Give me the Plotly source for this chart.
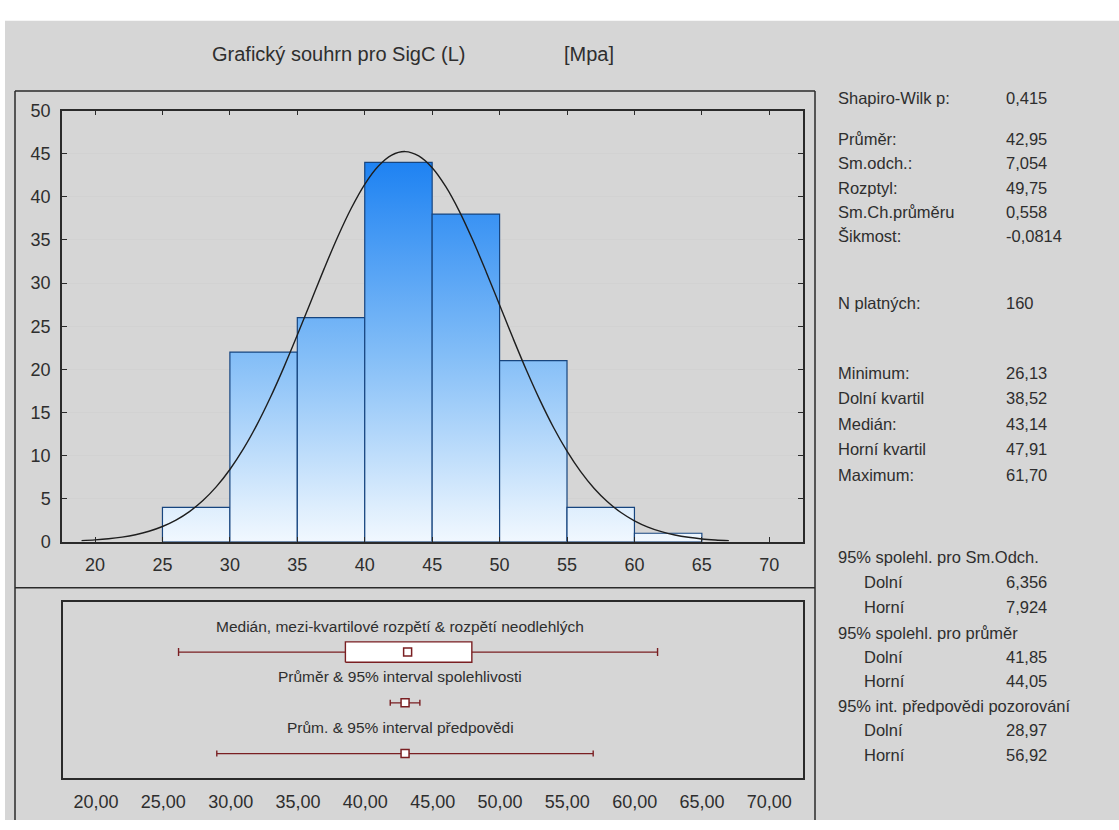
import plotly.graph_objects as go

# ---------------- data ----------------
bin_left = [25, 30, 35, 40, 45, 50, 55, 60]
bin_width = 5
bin_counts = [4, 22, 26, 44, 38, 21, 4, 1]

curve_x = [19, 20, 21, 22, 23, 24, 25, 26, 27, 28, 29, 30, 31, 32, 33, 34, 35, 36,
           37, 38, 39, 40, 41, 42, 43, 44, 45, 46, 47, 48, 49, 50, 51, 52, 53, 54,
           55, 56, 57, 58, 59, 60, 61, 62, 63, 64, 65, 66, 67]
curve_y = [0.14, 0.23, 0.36, 0.55, 0.83, 1.23, 1.78, 2.52, 3.51, 4.79, 6.40, 8.39,
           10.77, 13.56, 16.73, 20.23, 23.97, 27.84, 31.70, 35.37, 38.67, 41.45,
           43.54, 44.83, 45.24, 44.74, 43.37, 41.20, 38.37, 35.01, 31.32, 27.46,
           23.59, 19.86, 16.40, 13.26, 10.52, 8.17, 6.22, 4.65, 3.40, 2.44, 1.71,
           1.18, 0.80, 0.53, 0.34, 0.22, 0.14]

hist_xticks = [20, 25, 30, 35, 40, 45, 50, 55, 60, 65, 70]
hist_yticks = [0, 5, 10, 15, 20, 25, 30, 35, 40, 45, 50]
box_xticks = [20, 25, 30, 35, 40, 45, 50, 55, 60, 65, 70]
box_ticklabels = ["20,00", "25,00", "30,00", "35,00", "40,00", "45,00",
                  "50,00", "55,00", "60,00", "65,00", "70,00"]

minimum = 26.13
q1 = 38.52
median = 43.14
q3 = 47.91
maximum = 61.70
mean = 42.95
ci_low, ci_high = 41.85, 44.05
pi_low, pi_high = 28.97, 56.92

box_labels = ["Medián, mezi-kvartilové rozpětí & rozpětí neodlehlých",
              "Průměr & 95% interval spolehlivosti",
              "Prům. & 95% interval předpovědi"]

stat_labels = ["Shapiro-Wilk p:", "Průměr:", "Sm.odch.:", "Rozptyl:", "Sm.Ch.průměru",
               "Šikmost:", "N platných:", "Minimum:", "Dolní kvartil", "Medián:",
               "Horní kvartil", "Maximum:", "95% spolehl. pro Sm.Odch.", "Dolní", "Horní",
               "95% spolehl. pro průměr", "Dolní", "Horní",
               "95% int. předpovědi pozorování", "Dolní", "Horní"]
stat_values = ["0,415", "42,95", "7,054", "49,75", "0,558", "-0,0814", "160", "26,13",
               "38,52", "43,14", "47,91", "61,70", "", "6,356", "7,924", "", "41,85",
               "44,05", "", "28,97", "56,92"]

title_text = "Grafický souhrn pro SigC (L)"
unit_text = "[Mpa]"

# ---------------- layout helpers ----------------
W, H = 1119, 830
def px(x):
    return x / W
def py(y):
    return 1 - y / H

FONT = "Liberation Sans, Arial, sans-serif"
TXT = "#2e2e2e"
MAROON = "#7a1f22"
NAVY = "#17457f"
FRAME = "#2a2a2a"

fig = go.Figure()

# histogram bars (gradient filled)
for left, cnt in zip(bin_left, bin_counts):
    right = left + bin_width
    fig.add_trace(go.Scatter(
        x=[left, right, right, left, left], y=[0, 0, cnt, cnt, 0],
        mode="lines", fill="toself",
        fillgradient=dict(type="vertical",
                          colorscale=[[0, "#f7fbff"], [0.12, "#dcedfd"], [0.5, "#82bdf7"], [1, "#1a80f2"]],
                          start=0, stop=45),
        line=dict(color=NAVY, width=1.2),
        xaxis="x", yaxis="y", showlegend=False, hoverinfo="skip"))

# normal curve
fig.add_trace(go.Scatter(x=curve_x, y=curve_y, mode="lines",
                         line=dict(color="#1e1e1e", width=1.4, shape="spline"),
                         xaxis="x", yaxis="y", showlegend=False))

# ---------------- box / interval panel ----------------
r1, r2, r3 = 0.717, 0.428, 0.139
bh = 0.058

fig.add_trace(go.Scatter(x=[median], y=[r1], mode="markers", marker=dict(size=1, color="rgba(0,0,0,0)"),
                         error_x=dict(type="data", symmetric=False, array=[maximum - median],
                                      arrayminus=[median - minimum], color=MAROON, thickness=1.4, width=4),
                         xaxis="x2", yaxis="y2", showlegend=False))
fig.add_trace(go.Scatter(x=[q1, q3, q3, q1, q1], y=[r1 - bh, r1 - bh, r1 + bh, r1 + bh, r1 - bh],
                         mode="lines", fill="toself", fillcolor="white",
                         line=dict(color=MAROON, width=1.4),
                         xaxis="x2", yaxis="y2", showlegend=False))
fig.add_trace(go.Scatter(x=[median], y=[r1], mode="markers",
                         marker=dict(symbol="square", size=8, color="white", line=dict(color=MAROON, width=1.5)),
                         xaxis="x2", yaxis="y2", showlegend=False))
fig.add_trace(go.Scatter(x=[mean], y=[r2], mode="markers",
                         marker=dict(symbol="square", size=8, color="white", line=dict(color=MAROON, width=1.5)),
                         error_x=dict(type="data", symmetric=False, array=[ci_high - mean],
                                      arrayminus=[mean - ci_low], color=MAROON, thickness=1.4, width=3),
                         xaxis="x2", yaxis="y2", showlegend=False))
fig.add_trace(go.Scatter(x=[mean], y=[r3], mode="markers",
                         marker=dict(symbol="square", size=8, color="white", line=dict(color=MAROON, width=1.5)),
                         error_x=dict(type="data", symmetric=False, array=[pi_high - mean],
                                      arrayminus=[mean - pi_low], color=MAROON, thickness=1.4, width=3),
                         xaxis="x2", yaxis="y2", showlegend=False))

annotations = []
for txt, yy in zip(box_labels, [0.861, 0.578, 0.289]):
    annotations.append(dict(text=txt, x=px(400), y=yy, xref="paper", yref="y2",
                            xanchor="center", yanchor="middle", showarrow=False,
                            font=dict(family=FONT, size=15.5, color=TXT)))

# title
annotations.append(dict(text=title_text, x=px(338), y=py(45), xref="paper", yref="paper",
                        xanchor="center", yanchor="middle", showarrow=False,
                        font=dict(family=FONT, size=20, color=TXT)))
annotations.append(dict(text=unit_text, x=px(562), y=py(45), xref="paper", yref="paper",
                        xanchor="left", yanchor="middle", showarrow=False,
                        font=dict(family=FONT, size=20, color=TXT)))

# stats panel
stat_y = [90, 132, 157, 182, 207, 232, 300, 372, 398, 424, 450, 476,
          560, 586, 612, 638, 663, 688, 713, 738, 763]
for lab, val, yy in zip(stat_labels, stat_values, stat_y):
    indent = lab in ("Dolní", "Horní")
    annotations.append(dict(text=lab, x=px(862 if indent else 836), y=py(yy), xref="paper", yref="paper",
                            xanchor="left", yanchor="middle", showarrow=False,
                            font=dict(family=FONT, size=16.5, color=TXT)))
    if val:
        annotations.append(dict(text=val, x=px(1004), y=py(yy), xref="paper", yref="paper",
                                xanchor="left", yanchor="middle", showarrow=False,
                                font=dict(family=FONT, size=16.5, color=TXT)))

shapes = [
    dict(type="rect", xref="paper", yref="paper", x0=px(5), x1=1, y0=0, y1=py(11),
         fillcolor="#d6d6d6", line=dict(width=0), layer="below"),
    dict(type="line", xref="paper", yref="paper", x0=px(15), x1=px(815), y0=py(83), y1=py(83),
         line=dict(color=FRAME, width=1.5)),
    dict(type="line", xref="paper", yref="paper", x0=px(15), x1=px(15), y0=py(83), y1=0,
         line=dict(color=FRAME, width=1.5)),
    dict(type="line", xref="paper", yref="paper", x0=px(815), x1=px(815), y0=py(83), y1=0,
         line=dict(color=FRAME, width=1.5)),
    dict(type="line", xref="paper", yref="paper", x0=px(15), x1=px(815), y0=py(592), y1=py(592),
         line=dict(color=FRAME, width=1.5)),
]

axis_font = dict(family=FONT, size=18, color=TXT)
xr = [17.55, 72.5]

fig.update_layout(
    width=W, height=H, autosize=False,
    margin=dict(l=0, r=0, t=0, b=0),
    paper_bgcolor="white", plot_bgcolor="white",
    showlegend=False,
    annotations=annotations, shapes=shapes,
    xaxis=dict(domain=[px(62), px(803)], range=xr, tickvals=hist_xticks,
               ticks="inside", ticklen=5, tickcolor=FRAME, showline=True, linecolor=FRAME,
               linewidth=1.5, mirror="ticks", showgrid=False, zeroline=False,
               tickfont=axis_font, ticklabelstandoff=6, anchor="y"),
    yaxis=dict(domain=[py(545), py(103)], range=[0, 50], tickvals=hist_yticks,
               ticks="inside", ticklen=5, tickcolor=FRAME, showline=True, linecolor=FRAME,
               linewidth=1.5, mirror="ticks", showgrid=True, gridcolor="#d2d2d2", gridwidth=1,
               zeroline=False, tickfont=axis_font, ticklabelstandoff=6, anchor="x"),
    xaxis2=dict(domain=[px(63), px(803)], range=xr, tickvals=box_xticks, ticktext=box_ticklabels,
                ticks="", showline=True, linecolor=FRAME, linewidth=1.5, mirror=True,
                showgrid=False, zeroline=False, tickfont=axis_font, ticklabelstandoff=7, anchor="y2"),
    yaxis2=dict(domain=[py(787), py(607)], range=[0, 1], showticklabels=False, ticks="",
                showline=True, linecolor=FRAME, linewidth=1.5, mirror=True,
                showgrid=False, zeroline=False, anchor="x2"),
)

fig.write_html("out.html")
